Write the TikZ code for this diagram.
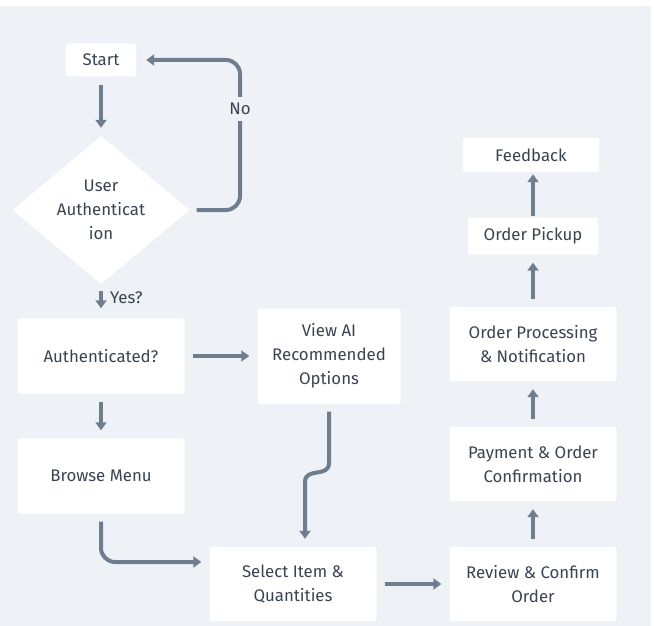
\documentclass[tikz,border=0pt]{standalone}
\usepackage{fontspec}
\setmainfont{Fira Sans}
\usetikzlibrary{arrows.meta,shapes.geometric}
\definecolor{pagebg}{HTML}{EEF2F6}
\definecolor{linecol}{HTML}{6E7E8E}
\definecolor{textcol}{HTML}{3A4450}
\begin{document}
\begin{tikzpicture}[x=1pt,y=-1pt,
  box/.style={fill=white, rounded corners=2pt, text=textcol, align=center, inner sep=0pt, font=\fontsize{16.8}{24}\selectfont},
  flow/.style={line width=4pt, draw=linecol, line cap=butt, -{Triangle[width=11pt,length=8pt]}, shorten <=8pt, shorten >=8pt},
  lbl/.style={text=textcol, inner sep=1pt, font=\fontsize{16.8}{18}\selectfont}]
\useasboundingbox (0,0) rectangle (654,626);
\fill[white] (0,0) rectangle (654,626);
\fill[pagebg] (0,6) rectangle (651,626);
\node[box, minimum width=70pt, minimum height=33pt] (start) at (101,60){Start};
\node[box, diamond, rounded corners=0pt, minimum width=177pt, minimum height=140pt] (userauth) at (101,210){User\\Authenticat\\ion};
\node[box, minimum width=167pt, minimum height=75pt] (authq) at (101,356){Authenticated?};
\node[box, minimum width=143pt, minimum height=95pt] (viewai) at (329,356){View AI\\Recommended\\Options};
\node[box, minimum width=167pt, minimum height=75pt] (browse) at (101,476){Browse Menu};
\node[box, minimum width=167pt, minimum height=74pt] (select) at (293,584){Select Item \&\\Quantities};
\node[box, minimum width=167pt, minimum height=74pt] (review) at (533,584){Review \& Confirm\\Order};
\node[box, minimum width=167pt, minimum height=74pt] (payment) at (533,464){Payment \& Order\\Confirmation};
\node[box, minimum width=167pt, minimum height=74pt] (process) at (533,344){Order Processing\\\& Notification};
\node[box, minimum width=130pt, minimum height=37pt] (pickup) at (533,236){Order Pickup};
\node[box, minimum width=136pt, minimum height=34pt] (feedback) at (531,155){Feedback};
\coordinate (noturn) at (240,60);
\coordinate (bend1) at (329,463);
\coordinate (bend2) at (305,482);
\draw[flow](start) -- (userauth);
\draw[flow, shorten <=7pt, shorten >=10pt, rounded corners=14pt](userauth.east) -| (noturn) -- (start.east);
\node[lbl, fill=pagebg, inner ysep=6pt] (nolabel) at (240,109){No};
\draw[flow, shorten <=7pt, shorten >=10pt](userauth) -- (authq);
\node[lbl, anchor=west] (yeslabel) at (109,298){Yes?};
\draw[flow](authq) -- (viewai);
\draw[flow](authq) -- (browse);
\draw[flow, rounded corners=14pt](browse.south) |- ([yshift=22pt]select.west);
\draw[flow](viewai.south) -- (bend1) .. controls (329,478) and (305,467) .. (bend2) -- ([xshift=12pt]select.north);
\draw[flow](select) -- (review);
\draw[flow](review) -- (payment);
\draw[flow](payment) -- (process);
\draw[flow](process) -- (pickup);
\draw[flow, shorten <=1pt, shorten >=2pt](pickup.north) -- (pickup.north |- feedback.south);
\end{tikzpicture}
\end{document}
